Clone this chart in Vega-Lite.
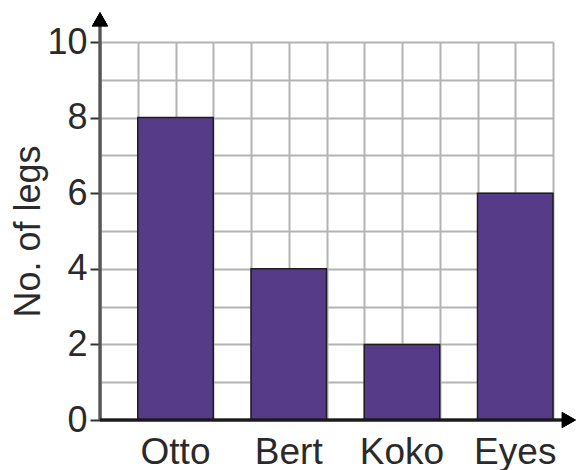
{
  "$schema": "https://vega.github.io/schema/vega-lite/v6.json",
  "width": 453,
  "height": 378,
  "autosize": {"type": "none"},
  "padding": {"left": 100, "top": 42, "right": 23, "bottom": 50},
  "config": {"view": {"stroke": null}, "font": "Liberation Sans"},
  "data": {"values": [
    {"name": "Otto", "legs": 8},
    {"name": "Bert", "legs": 4},
    {"name": "Koko", "legs": 2},
    {"name": "Eyes", "legs": 6}
  ]},
  "layer": [
    {
      "mark": {"type": "bar", "color": "#553b88", "stroke": "#1e1e1e", "strokeWidth": 1.5},
      "encoding": {
        "x": {
          "field": "name", "type": "nominal", "sort": null,
          "scale": {"paddingInner": 0.33333, "paddingOuter": 0.166667, "align": 1},
          "axis": {"title": null, "orient": "bottom", "labelAngle": 0, "ticks": false, "domain": false, "grid": false,
                   "labelFontSize": 37, "labelColor": "#2a2a2a", "labelPadding": 14}
        },
        "y": {
          "field": "legs", "type": "quantitative",
          "scale": {"domain": [0, 10], "nice": false},
          "axis": {
            "title": "No. of legs", "titleFontSize": 36, "titleFontWeight": "normal", "titleColor": "#2a2a2a", "titlePadding": -1,
            "values": [0, 1, 2, 3, 4, 5, 6, 7, 8, 9, 10], "tickCount": 11,
            "labelExpr": "datum.value % 2 == 0 ? datum.label : ''",
            "labelFontSize": 36, "labelColor": "#2a2a2a", "labelPadding": 3,
            "tickOpacity": {"condition": {"test": "datum.value % 2 == 0", "value": 1}, "value": 0},
            "tickSize": 10, "tickColor": "#333", "tickWidth": 2,
            "grid": true, "gridColor": "#b3b3b3", "gridWidth": 2,
            "domain": false
          }
        }
      }
    },
    {
      "layer": [
        {
          "mark": {"type": "rule", "color": "#555", "strokeWidth": 2.5},
          "encoding": {
            "x": {
              "datum": 0, "type": "quantitative",
              "scale": {"domain": [0, 12], "nice": false, "zero": false},
              "axis": {"orient": "bottom", "values": [0, 1, 2, 3, 4, 5, 6, 7, 8, 9, 10, 11, 12], "tickCount": 13, "labels": false, "ticks": false,
                       "domain": false, "grid": true, "gridColor": "#b3b3b3", "gridWidth": 2, "title": null}
            },
            "y": {"datum": 0, "type": "quantitative", "scale": {"domain": [0, 10], "nice": false}},
            "y2": {"datum": 10.5}
          }
        },
        {
          "mark": {"type": "rule", "color": "#1a1a1a", "strokeWidth": 2.5},
          "encoding": {
            "x": {"datum": 0, "type": "quantitative", "scale": {"domain": [0, 12], "nice": false, "zero": false}},
            "x2": {"datum": 12.3},
            "y": {"datum": 0, "type": "quantitative", "scale": {"domain": [0, 10], "nice": false}}
          }
        },
        {
          "mark": {"type": "point", "filled": true, "shape": "triangle-up", "size": 260, "color": "#000", "opacity": 1},
          "encoding": {
            "x": {"datum": 0, "type": "quantitative", "scale": {"domain": [0, 12], "nice": false, "zero": false}},
            "y": {"datum": 10.6, "type": "quantitative", "scale": {"domain": [0, 10], "nice": false}}
          }
        },
        {
          "mark": {"type": "point", "filled": true, "shape": "triangle-right", "size": 260, "color": "#000", "opacity": 1},
          "encoding": {
            "x": {"datum": 12.42, "type": "quantitative", "scale": {"domain": [0, 12], "nice": false, "zero": false}},
            "y": {"datum": 0, "type": "quantitative", "scale": {"domain": [0, 10], "nice": false}}
          }
        }
      ]
    }
  ],
  "resolve": {"scale": {"x": "independent"}}
}
